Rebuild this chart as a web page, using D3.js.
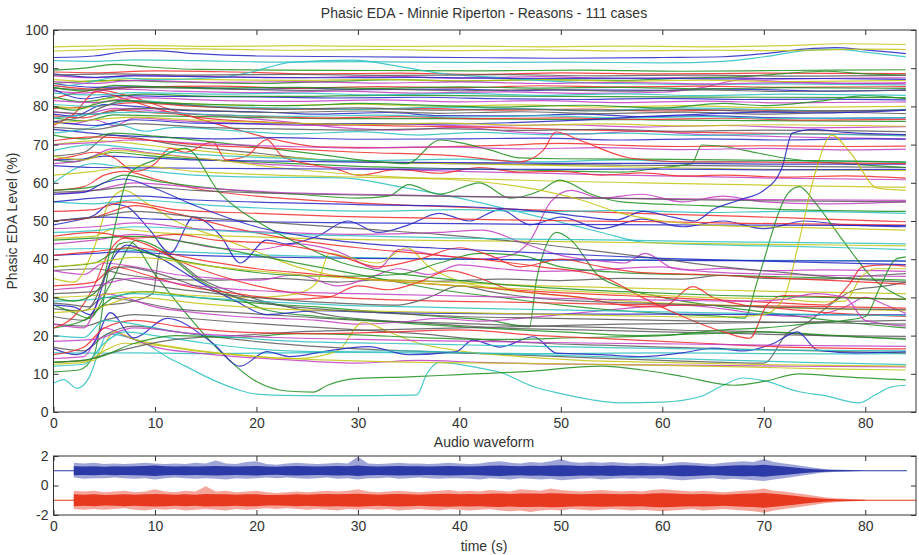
<!DOCTYPE html>
<html>
<head>
<meta charset="utf-8">
<script src="https://cdn.jsdelivr.net/npm/d3@7"></script>
<style>
  body { margin: 0; background: #fff; }
  svg text { font-family: "Liberation Sans", Arial, sans-serif; fill: #333; }
</style>
</head>
<body>
<svg id="chart" width="919" height="555"></svg>
<script>
// ---- tick values ----
const edaXTicks = [0, 10, 20, 30, 40, 50, 60, 70, 80];
const edaYTicks = [0, 10, 20, 30, 40, 50, 60, 70, 80, 90, 100];
const audioYTicks = [-2, 0, 2];

// ---- phasic EDA traces: each case is time, level, time, level, ... (s, %) ----
const blueCases = [
  [0,92.8, 4,93.2, 7,94.3, 10,94.6, 14,93.8, 20,93.2, 30,93, 40,92.8, 50,92.6, 60,92.8, 66,93, 70,93.8, 74,95, 77,95.4, 80,94.8, 84,93.8],
  [0,86, 4,85, 10,85.2, 20,84.5, 25,84.8, 30,84.4, 40,84.5, 45,84.1, 50,84.3, 60,84.2, 65,84.6, 70,84.4, 77,84, 84,84.3],
  [0,84.5, 3,82, 6,82.8, 12,82.6, 20,82.5, 28,82.2, 36,82.4, 44,82, 52,81.8, 60,82.1, 68,81.8, 76,81.9, 84,81.7],
  [0,78, 2,77.5, 5,80.5, 8,80, 14,78.8, 20,78.6, 26,78, 33,78.4, 38,77.6, 45,77.5, 52,78, 58,77.3, 64,77.6, 70,77.1, 77,76.9, 84,77],
  [0,74, 3,73.2, 6,72.5, 10,72, 16,71.5, 22,71.8, 30,71.4, 40,71.5, 48,71.7, 56,71.2, 64,71.5, 72,71.2, 80,71.5, 84,71.4],
  [0,66, 3,66.2, 5,67, 9,66.6, 14,66, 22,65.7, 30,65.4, 40,65.3, 50,65.1, 60,65.1, 70,64.9, 84,64.9],
  [0,64.5, 4,64, 10,63.9, 20,63.7, 30,63.6, 40,63.6, 50,63.5, 60,63.6, 70,63.4, 84,63.5],
  [0,49, 2,50, 4,51.5, 5.6,54.5, 7,54, 9.5,47.6, 11.5,41.6, 13.8,51, 16.5,46, 18.4,39, 21,45, 23,44, 26,46, 29,50, 32,47, 35,49, 38,52, 41,50, 44,53, 47,49, 50,51, 54,48, 58,50.5, 62,48.5, 66,50, 70,48, 74,50, 78,49, 84,48.5],
  [0,41, 4,41.5, 7,42, 12,41.2, 20,40.6, 30,40.2, 40,40, 50,39.8, 60,39.7, 70,39.6, 84,39.5],
  [0,28, 2,27.5, 3.6,25.5, 5.6,39, 7.2,43.7, 10,41, 14.4,34, 18,29, 21,25.5, 26,26.5, 32,26, 40,25.8, 50,25.6, 60,25.6, 70,25.5, 84,25.4],
  [0,16.6, 2.3,15, 4,18, 5.6,26, 7.9,19.4, 11.2,24.5, 15.7,18, 18.4,12, 21,15.8, 23.3,14.5, 27,16, 31,17.1, 35,15, 39.7,15.8, 41.3,18.8, 44,17, 47.3,19.7, 49.6,15.4, 54,15, 58,14.5, 62,15.5, 65,16.7, 68,16, 71,18, 73.3,21, 75.3,16.2, 79,15.5, 84,15.8],
  [0,50, 5,51, 10,50.5, 20,49.8, 30,49.5, 40,49.3, 50,49.1, 60,49, 70,48.9, 84,48.8],
  [0,88.5, 4,87.6, 8,88, 16,87.7, 26,87.5, 36,87.6, 46,87.3, 56,87.4, 66,87.2, 76,87.3, 84,87.1],
  [0,76, 4,75, 8,76.5, 14,75.6, 22,75.4, 30,75.5, 38,75.4, 46,75.8, 52,76.4, 58,77.3, 64,78, 70,78.5, 76,78.3, 84,79],
  [0,55, 4,56, 8,56.6, 14,55.5, 22,54.8, 30,54.3, 40,53.8, 48,52.5, 52,51.2, 55.5,50.3, 58.1,52.5, 61,51, 63.2,50, 65,53, 67.6,55.5, 70,58, 71.8,64, 72.8,73, 75,74, 78,73.2, 84,72.6],
  [0,57, 3,57.5, 5,60, 7,61, 10,58.5, 14,54, 20,48.5, 26,45.5, 32,43.8, 40,42.6, 50,41.4, 60,40.2, 70,39.5, 84,38.6]
];

const greenCases = [
  [0,89.5, 3,90, 6,91, 9,90.4, 14,89.7, 22,89.5, 32,89.4, 42,89.3, 52,89.5, 62,89.2, 72,89.4, 84,89.6],
  [0,86, 6,86.8, 12,86.4, 20,86, 28,86.6, 34,87, 40,86.6, 48,87, 56,86.8, 62,87.4, 68,87.8, 72,88.6, 76,89.2, 80,88.5, 84,88.2],
  [0,82.5, 3,81.2, 6,82.5, 9,83.2, 16,82.6, 24,82.6, 32,82.9, 40,82.8, 50,82.6, 60,82.5, 70,82.4, 84,82.3],
  [0,77, 3,76.2, 6,77.8, 10,77.5, 18,77.2, 28,76.8, 38,76.8, 48,76.6, 58,76.5, 68,76.3, 84,76.1],
  [0,66, 2,65.5, 4,67, 6,68, 9,67.2, 14,66.2, 22,65.2, 30,64.3, 40,63.7, 50,63.1, 56,62.8, 60,64, 62.9,65, 63.9,69.9, 66,69.5, 69.4,67.8, 72,66.5, 78,65, 84,64],
  [0,10.5, 2.5,11, 4,15, 5.5,38, 6.5,44, 7.5,44.5, 10,36, 13,26, 16,17, 20,8, 23,5.5, 25.6,5.2, 27,7, 30,8.8, 35,9.2, 40,9.8, 46,10.5, 54,12, 58,11, 62,9.3, 67,7, 70,8, 73.5,10, 78,9.2, 84,8.4],
  [0,28, 2,26, 3.5,24.5, 5.5,33, 8.2,45, 10,43.5, 14.4,34.5, 18,30, 21,26.7, 26,25, 30,24.2, 36,23, 42,22, 50,21, 58,20, 64,20.5, 70,21, 76,20.2, 84,19],
  [0,22, 3,24, 6,30, 9,31.5, 14,30, 20,28.5, 26,27.5, 32,26.2, 38,25, 43,24, 46.9,22.3, 47.6,34.6, 49.6,47, 51,45, 53.8,35.4, 55.8,32.8, 60,30, 66,27.5, 72,25.5, 78,23.5, 84,22],
  [0,45, 4,45.5, 8,46, 14,44, 20,41, 26,38, 32,35, 38,32, 44,30, 50,28, 56,26.5, 62,25.5, 66,25, 68.1,24.6, 69.4,34.6, 72.4,57.3, 73.5,59, 75,55, 77.5,46, 80.9,34.6, 84,29.6],
  [0,58, 4,59, 7,62, 10,60.5, 16,58.5, 24,57, 30,56, 33,56.5, 35,59.5, 38,57, 42,60, 45,56, 48,58, 49.9,60.7, 53,57, 56,55, 64,54, 72,53, 84,52.5],
  [0,38, 4,39, 7,43, 10,41, 16,38, 22,36, 28,35.5, 34,36, 38,39, 42,41.5, 46,41, 50,38, 56,36.5, 62,36, 70,35.5, 78,35, 84,34.5],
  [0,72.5, 3,71.5, 6,73, 10,72.2, 18,70, 26,67.5, 32,65.5, 34.8,65, 38.1,71.2, 40,70.5, 43,68.6, 46,66.5, 50,66.3, 58,66.2, 66,66, 74,65.8, 84,65.5],
  [0,80, 2,79, 4,80.5, 6,81.5, 10,81, 16,80.5, 24,80.2, 30,80.8, 36,80.4, 44,79.8, 52,80.3, 60,79.6, 66,80.8, 70,80.2, 76,81.5, 80,82.8, 84,82],
  [0,13, 4,14, 8,18, 12,20, 18,19.5, 24,20.5, 30,20.2, 36,19.5, 44,19, 52,19.5, 60,20, 66,21.5, 70,22, 74,23, 78,24, 80,25, 81.5,33, 83,40, 84,40.6],
  [0,30, 2,29, 4,31, 4.9,34.6, 6,48, 7.5,62.5, 10,66, 13,69, 16.4,57.3, 21,48.4, 25,43, 28.5,39, 32,37, 38,35, 46,33, 56,31.5, 66,30.5, 76,30, 84,29.5],
  [0,85, 3,84, 6,85.5, 10,85.2, 16,84.8, 24,85, 32,84.7, 40,85.1, 48,84.8, 56,85, 64,84.6, 72,84.9, 84,84.7]
];

const redCases = [
  [0,89, 4,88.8, 10,89.3, 18,89, 26,88.5, 34,88.7, 42,88.4, 50,88.8, 60,88.5, 70,88.7, 84,88.6],
  [0,82, 2,83.4, 4.3,84.3, 7,83, 10,80.5, 14,77, 18,74, 22,71.2, 26.3,69.4, 32,69.2, 38,69.4, 44,69.8, 50,70.3, 56,69.8, 62,69.5, 70,69.7, 78,69.5, 84,69.6],
  [0,79.5, 4,80, 8,81, 14,80, 20,79.5, 28,79.2, 36,79.5, 44,79, 52,79.3, 60,78.8, 68,79.1, 76,78.7, 84,79],
  [0,77.5, 3,77, 6,79, 10,78.3, 18,77.6, 26,77, 34,77.3, 42,76.8, 50,77, 58,76.6, 66,76.9, 74,76.4, 84,76.6],
  [0,75, 2,78, 4.2,83.8, 7,82, 10,79.5, 14,77.2, 20,76, 28,75.2, 36,74.8, 42,74.6, 50,74, 60,73.4, 68,73, 76,72.8, 84,72.4],
  [0,66, 2,67, 4,68, 6,66.5, 8,63, 10,65, 11.5,69, 13,68, 15.7,70.7, 17,66, 19,67, 21,71.3, 22.6,66.8, 25,65, 28,63.5, 30,62, 34,63.5, 38,62.5, 42,64, 46,62.8, 50,63, 54,62, 58,62.6, 62,61.8, 66,62, 72,61.5, 78,61.8, 84,61.2],
  [0,58, 3,59, 5,62, 7,63, 10,61, 14,58.5, 20,56.5, 28,55, 36,54, 44,53.2, 52,52.5, 60,51.8, 68,51.2, 76,50.5, 84,49.8],
  [0,52.5, 4,53, 7,55, 12,53, 20,52, 28,51.2, 36,50.8, 44,50.3, 52,50, 60,49.8, 68,49.4, 76,49.2, 84,48.9],
  [0,22, 2,25, 4,33, 5.5,42, 7,45.5, 9,44, 12,40, 16,36, 20,33, 24,31, 28,30, 32,29.5, 38,29, 44,28.8, 50,28.5, 56,28.2, 62,28, 70,27.8, 78,27.5, 84,27.2],
  [0,33, 4,34, 6,38, 9,36, 13,33, 18,31, 23,29.5, 27,30, 30,33, 33,32, 36,34, 39,37, 42,35, 45,32, 48,31, 52,30, 56,28, 60,27.5, 63,32.8, 65,30, 68,28, 72,27, 76,26, 80,25.5, 84,25],
  [0,41, 4,42, 8,43, 14,40, 20,37.5, 26,36, 32,34.5, 40,33, 48,31.5, 56,30.5, 64,29.5, 72,28.5, 76,28, 78.5,33.7, 79.7,38, 82,38.5, 84,38.2],
  [0,50, 4,51, 8,54, 12,52, 18,48, 24,45, 30,43, 36,41.5, 42,40, 48,38, 54,35.5, 58,30, 62,25, 66,21, 68.6,19.3, 70.3,28, 72,30.5, 78,30, 84,29.5],
  [0,85.5, 4,84.5, 8,85, 16,85.3, 24,84.8, 32,85.2, 40,84.9, 48,85.4, 56,85.1, 64,85.3, 72,85, 84,85.2],
  [0,15, 3,17, 5,22, 8,24, 12,22.5, 18,21, 26,20.5, 34,21, 40,21.5, 48,20, 56,19, 64,18, 72,17, 84,16.5],
  [0,46, 4,47, 8,45.5, 12,46.5, 16,45, 22,44, 28,41, 32,38, 36,40, 40,43, 43,41, 46,38, 50,40, 54,38, 58,36.5, 64,36, 72,35, 80,34, 84,33.5],
  [0,71, 4,72, 8,71.5, 14,70, 22,69, 30,68, 40,67, 46,65.5, 48.3,68.6, 49.5,73.3, 52,71, 56.8,66.5, 62,65.5, 70,65.4, 84,65]
];

const cyanCases = [
  [0,7.5, 1,8.5, 2.3,6.2, 3.5,9, 4.5,16, 5.3,20.5, 7,19.8, 9,18, 11.2,14.4, 13,12, 15.7,8.4, 18,6, 20,4.7, 24,4.3, 28,4.2, 32,4.3, 35.8,4.5, 36.8,10, 38,13, 42,11.5, 44,10.4, 47.3,6.6, 50,4.8, 53,3.2, 55.8,2.4, 60,2.6, 63.7,4, 66,7, 67.9,8.9, 70,8.2, 73.5,5.3, 76,4.3, 79.4,2.4, 81,4.5, 82.5,6.5, 84,7],
  [0,92, 4,91.8, 8,92.2, 14,92, 22,91.6, 30,91.7, 40,91.5, 50,91.6, 60,91.4, 66,91.8, 70,93, 74,94.6, 77,95, 80,94.2, 84,93],
  [0,15.5, 4,15.4, 8,15.5, 14,15.3, 20,15.4, 30,15.6, 40,15.4, 50,15.3, 60,15.5, 70,15.3, 80,15.2, 84,15.3],
  [0,42.6, 4,42.8, 8,42.3, 14,41.8, 22,41, 30,40.4, 40,40, 50,39.8, 60,39.8, 70,39.7, 84,39.6],
  [0,60, 3.9,65, 7,64, 10,63, 13.8,62, 20,61.5, 28.5,61.3, 34,59, 40,56, 48,51, 54,47, 58,44.5, 62,44, 70,43.5, 78,43, 84,42.5],
  [0,85, 3,86, 6,87.5, 10,87, 16,87.5, 19,88.7, 23.6,91.6, 29.5,92.1, 34,90.5, 38,88.7, 44,87.5, 50,86.5, 56,86, 64,85.7, 72,85.9, 84,85.6],
  [0,80.5, 4,80, 8,81.5, 14,80.3, 22,79.6, 30,79.2, 38,79.8, 46,79.4, 54,79, 62,79.6, 70,79.2, 78,78.8, 84,79.2],
  [0,73, 3,74, 6,75.5, 9,73.5, 12,74.5, 18,73.6, 24,72.8, 30,73.4, 36,72.5, 42,73.2, 48,72.6, 56,73, 64,72.4, 72,72.8, 84,72.3],
  [0,68.5, 4,70, 8,69, 14,67.5, 22,66.5, 30,65.8, 40,66.2, 48,65.5, 56,66, 64,65.4, 72,65.8, 84,65.3],
  [0,55, 4,54.5, 8,55.5, 16,54, 24,53, 32,52.6, 40,53, 48,52.4, 56,52.8, 64,52.2, 72,52.5, 84,52],
  [0,29, 4,29.5, 8,31, 14,30, 20,29, 28,28, 36,27.5, 44,27, 52,26.6, 60,26.2, 68,25.8, 76,25.5, 84,25.2],
  [0,12, 3,12.5, 5,18, 7,21, 10,20, 15,18, 20,16.5, 26,15.8, 34,16, 42,15.4, 50,14.8, 58,14.2, 66,13.6, 74,13, 84,12.4],
  [0,77, 4,78, 8,78.5, 16,77.8, 24,77.4, 32,77.7, 40,77.2, 48,77.5, 56,77, 64,77.3, 72,76.8, 84,77.1],
  [0,83.5, 4,83, 8,83.6, 16,83.2, 24,83.5, 32,83, 40,83.4, 48,82.9, 56,83.3, 64,82.8, 72,83.2, 84,82.9],
  [0,47, 4,47.5, 8,48.5, 16,47.5, 24,46.5, 32,46, 40,45.5, 48,45.2, 56,45, 64,44.6, 72,44.4, 84,44],
  [0,20, 3,19.5, 5,24, 8,23, 12,21, 18,19.5, 24,18.5, 32,18, 40,17.6, 48,17.2, 56,16.8, 64,16.5, 72,16.2, 84,16]
];

const magentaCases = [
  [0,88, 4,87.5, 8,88.2, 16,87.8, 24,87.5, 32,87.9, 40,87.4, 48,87.8, 56,87.3, 64,87.7, 72,87.2, 84,87.5],
  [0,84, 3,83.5, 6,84.5, 12,84, 20,83.6, 28,84, 36,83.5, 44,83.8, 52,83.4, 60,83.7, 64,85, 68,87, 72,86.5, 78,86, 84,86.2],
  [0,78.5, 3,78, 6,79.5, 10,78.8, 16,77.6, 22,76.2, 28,74.5, 34,73.8, 40,74.5, 46,73.2, 52,72.8, 58,73.5, 64,72.6, 70,72.2, 76,71.8, 84,71.5],
  [0,76, 2,75.5, 4,76.5, 6,75, 8,77, 12,76.3, 18,75.6, 26,75, 34,75.4, 42,74.8, 50,75.2, 58,74.6, 66,75, 74,74.4, 84,74.7],
  [0,65, 3,66, 6,69, 9,68, 14,66.5, 20,65, 26,64.2, 32,63.6, 40,63, 48,62.5, 56,62, 64,61.6, 72,61.2, 84,60.8],
  [0,44, 4,45, 8,46.5, 12,45, 16,43, 20,42.5, 24,44, 28,42, 32,37.5, 34,42.5, 38,41, 42,40, 45,41, 47,45, 49,55, 51,58, 54,56, 58,57, 62,55, 66,56.5, 70,55, 76,54.5, 84,55],
  [0,37, 3,36, 5,39, 8,38, 12,36, 16,35, 20,34.5, 24,36, 28,33, 31,35, 34,37.5, 37,36, 40,38.5, 44,37.5, 48,36.8, 52,37, 56,37.6, 60,38, 63,37.2, 66,37.6, 70,37, 76,37.2, 84,36.8],
  [0,23, 3,22, 5,31, 7,30, 10,27.5, 14,26, 18,25, 22,24.5, 26,24, 30,23, 34,23.5, 38,24.5, 42,23.8, 46,24.5, 50,25.5, 54,26.5, 58,27.5, 62,28, 66,27, 70,25.5, 74,25, 78,27.5, 80,30, 82,28, 84,25.8],
  [0,14, 3,14.5, 5,22, 7,20, 10,17, 14,15.5, 18,14.5, 24,13.5, 30,12.8, 36,13.5, 42,13, 48,12.6, 56,12.4, 64,12.2, 72,12, 84,11.8],
  [0,57, 4,58, 8,60, 14,58.8, 22,57.5, 30,57, 38,56.6, 46,56.2, 54,56, 62,55.8, 70,55.6, 84,55.4],
  [0,48, 4,48.5, 8,49.5, 14,48, 22,47, 30,46.5, 38,47, 42.3,47.6, 46,44.5, 50,41, 54,39.5, 56.3,39, 58.3,41.5, 61.2,37.5, 66,36.5, 72,36, 84,35.5],
  [0,81.5, 4,81, 8,82.3, 16,81.6, 24,81.3, 32,81.7, 40,81.2, 48,81.5, 56,81, 64,81.4, 72,80.9, 84,81.2],
  [0,86.5, 4,86, 8,86.8, 16,86.3, 24,86.5, 32,86.1, 40,86.4, 48,86, 56,86.3, 64,85.9, 72,86.2, 84,85.9],
  [0,70, 4,70.5, 8,71.2, 14,70.3, 22,69.6, 30,69.1, 38,69.4, 46,68.9, 54,69.2, 62,68.7, 70,69, 78,68.6, 84,68.8],
  [0,32, 4,33, 8,35, 14,33, 22,31.5, 30,31, 38,30.5, 46,30, 54,29.5, 62,29.2, 68,29, 72,29.5, 75,31, 78,30, 80,24, 84,22.5],
  [0,18.5, 4,19, 8,22, 14,20.5, 22,19.5, 30,19, 38,18.6, 46,18.3, 54,18, 62,17.8, 70,17.5, 84,17.2]
];

const yellowCases = [
  [0,95.6, 4,95.8, 8,96, 16,95.7, 24,95.9, 32,95.7, 40,95.8, 48,95.6, 56,95.8, 64,95.6, 72,95.9, 78,96.4, 84,96.2],
  [0,94.5, 4,94.8, 8,95.2, 16,95, 24,94.7, 32,94.9, 40,94.6, 48,94.8, 56,94.5, 64,94.7, 72,94.6, 80,95, 84,94.9],
  [0,87, 4,86.5, 8,87.3, 16,87, 24,86.8, 32,87.1, 40,86.7, 48,87, 56,86.6, 64,86.9, 72,86.5, 84,86.8],
  [0,80, 3,79.5, 5,82, 8,81.5, 14,80.6, 22,80.2, 30,80.6, 38,80, 46,80.4, 54,79.8, 62,80.2, 70,79.7, 84,80],
  [0,70, 4,71, 7,70.5, 12,69, 18,67.5, 24,66.5, 30,65.6, 40,65, 50,64.5, 60,64, 70,63.5, 84,63.2],
  [0,67, 3,66, 6,68.5, 10,67.5, 16,66, 22,64, 28,62.5, 34,61.5, 42,61, 50,60.4, 58,60, 66,59.6, 74,59.2, 84,58.8],
  [0,45.5, 4,46, 6,48, 10,47, 18,46, 26,45.3, 34,45, 42,44.8, 50,44.6, 58,44.3, 66,44, 74,43.8, 84,43.5],
  [0,35, 2,34, 4,43, 5.5,55, 7,58, 9,55, 12,50, 16,46, 20,42, 24,38, 27.2,36, 30,35, 34,34.5, 40,33.8, 48,33, 56,32.5, 64,32, 72,31.5, 84,31],
  [0,30, 4,30.5, 8,31.5, 14,30.5, 20,30, 24,31, 26,34, 27.2,41.5, 29,40.5, 32,39, 34.8,43, 37,38, 39.7,34.5, 43,32.5, 48,31, 54,29.5, 60,28.5, 68,27.8, 76,27, 84,26.5],
  [0,13, 4,13.5, 6,21, 8,19, 12,17, 18,15, 24,14, 28,16, 30.5,23.5, 33,21, 36,18, 40,16, 46,14.5, 52,13.5, 60,13, 68,12.5, 76,12.2, 84,12],
  [0,26, 4,27, 8,30, 14,28.5, 22,27, 30,26.5, 40,26, 50,25.5, 60,25, 66,24.8, 70,25.5, 72,30, 73.5,45, 75,62, 76.7,72.5, 78.5,68, 81.2,58.6, 84,58],
  [0,38, 4,39, 8,40.5, 16,38, 24,36, 32,34.5, 40,33, 48,32, 56,31, 64,30, 72,29.5, 76,28.8, 78,29, 79.5,35, 81,37.5, 84,37.5],
  [0,12.5, 3,13, 5,16, 7,18, 10,17.5, 14,16, 20,14.5, 28,13.5, 36,13, 44,12.8, 52,12.5, 60,12.2, 68,11.8, 76,11.3, 84,11],
  [0,75.5, 4,76.5, 8,77.2, 14,76.4, 22,75.7, 30,75.3, 38,75.6, 46,75.1, 54,75.4, 62,74.9, 70,75.2, 84,74.8],
  [0,62, 4,63, 8,64.5, 14,63, 22,62, 30,61.5, 38,61, 46,59, 52,55.5, 56,52, 60,50, 64,49, 70,48.5, 78,48, 84,47.6]
];

const grayCases = [
  [0,67, 3,68, 4.6,71.2, 5.3,72.5, 8,71.8, 12,70, 16,68.8, 20,67.8, 26.3,66, 32,65.4, 40,65, 48,64.8, 56,64.6, 64,64.5, 72,64.3, 84,64],
  [0,25, 3,24, 5,28, 7,28.5, 9.8,31, 10.5,42, 12,40, 14.4,35, 17,32, 20,29.5, 24,27, 28,25, 32,24, 38,23, 44,22, 52,21.5, 60,21, 68,20.5, 76,20, 84,19.8],
  [0,17, 3,16, 5,20, 8,22.5, 12,21, 18,19, 24,17.5, 30,16.5, 40,15.5, 50,14.5, 60,13.5, 66,13, 70,12.8, 72.3,20.6, 74.3,23.4, 76.5,28, 79,32, 82,33, 84,34],
  [0,37, 4,37.5, 7,36, 10,35, 16,34.5, 22,35, 28,34, 32,34.6, 38,34.2, 44,34.8, 50,34.4, 56,35, 62,34.8, 66,35.8, 70,35, 76,34.8, 80,35.6, 84,36.2],
  [0,27, 3,26.5, 5,30, 8,29, 12,27, 18,26, 24,25, 30,24, 36,23.5, 42,23, 48,22.5, 56,22, 62,21.4, 70,21, 76,20, 80,19.5, 84,19.3],
  [0,23, 3,22.5, 5,24, 8,25.5, 12,24.8, 18,23.5, 24,22.5, 30,21.5, 36,20.5, 42,19, 48,18, 54,17.5, 60,17, 66,16.5, 72,16.2, 78,15.8, 84,15.5],
  [0,78.6, 4,78, 8,79.5, 14,79, 22,78.4, 30,78.8, 38,78.2, 46,78.6, 54,78.1, 62,78.5, 70,78, 78,78.4, 84,78.1],
  [0,76, 3,77.5, 5,80, 7,81.5, 10,81, 16,79.8, 22,79.2, 30,79.6, 38,79, 46,79.3, 54,78.8, 62,79.2, 70,78.7, 84,79],
  [0,74.5, 4,74, 8,75.5, 14,74.6, 22,74.1, 30,73.8, 38,74.2, 46,73.7, 54,74, 62,73.5, 70,73.8, 84,73.4],
  [0,57.5, 4,58, 8,59, 14,58, 22,57.2, 30,56.8, 38,56.5, 46,56.2, 54,56, 62,55.6, 70,55.3, 84,55],
  [0,31, 4,31.5, 6,35, 10,33, 16,31, 22,29.5, 28,28.5, 34,28, 37,30, 40,33, 43,31.5, 47,30, 52,29, 58,28.5, 64,28, 70,27.5, 78,27, 84,26.8],
  [0,50, 4,51, 8,52.5, 14,51, 22,49.5, 30,48, 38,46.5, 46,44.5, 54,42, 60,40, 66,38, 72,36.5, 78,35, 84,34],
  [0,13, 3,13.5, 5,15, 8,17, 12,19, 18,20, 24,21, 32,21.5, 40,22, 48,22.5, 56,23, 64,23.2, 72,23.5, 80,23.8, 84,24],
  [0,84.8, 4,84.3, 8,85, 16,84.6, 24,84.2, 32,84.5, 40,84.1, 48,84.4, 56,84, 64,84.3, 72,83.9, 84,84.2],
  [0,88.2, 6,88.5, 14,88.2, 24,88.4, 34,88.1, 44,88.3, 54,88, 64,88.2, 74,87.9, 84,88.1],
  [0,28.5, 2,28, 3.5,27.5, 5.5,37, 7,38, 10,36.5, 14,33, 18,30, 22,28, 26,27, 32,26, 40,25, 48,24.6, 56,24.2, 64,23.8, 72,23.5, 84,23]
];

// ---- audio waveform envelopes, one value per second from t = 2 s ----
// peak excursions above / below each channel's centre line
const leftUp   = [0.55,0.5,0.55,0.45,0.5,0.45,0.5,0.55,0.5,0.45,0.5,0.45,0.55,0.5,0.7,0.5,0.45,0.6,0.65,0.45,0.4,0.5,0.55,0.5,0.45,0.5,0.55,0.5,0.95,0.5,0.45,0.5,0.55,0.5,0.5,0.45,0.5,0.55,0.5,0.45,0.5,0.6,0.65,0.55,0.5,0.6,0.55,0.65,0.8,0.6,0.55,0.6,0.55,0.6,0.55,0.5,0.55,0.5,0.45,0.55,0.6,0.55,0.5,0.45,0.55,0.6,0.65,0.6,0.8,0.6,0.5,0.4,0.3,0.2,0.12,0.08,0.06,0.03,0];
const leftDown = [0.45,0.55,0.5,0.5,0.45,0.5,0.55,0.5,0.6,0.5,0.45,0.5,0.55,0.5,0.55,0.6,0.5,0.55,0.5,0.45,0.5,0.45,0.5,0.55,0.5,0.45,0.55,0.5,0.6,0.5,0.5,0.45,0.55,0.5,0.45,0.5,0.55,0.5,0.5,0.55,0.6,0.5,0.55,0.6,0.5,0.55,0.6,0.55,0.65,0.6,0.55,0.5,0.6,0.55,0.5,0.55,0.5,0.55,0.5,0.6,0.65,0.6,0.55,0.5,0.6,0.55,0.6,0.65,0.7,0.6,0.5,0.4,0.3,0.2,0.12,0.08,0.05,0.03,0];
const rightUp   = [0.65,0.6,0.65,0.55,0.6,0.65,0.55,0.6,0.75,0.6,0.55,0.65,0.6,0.95,0.6,0.65,0.55,0.6,0.65,0.55,0.5,0.55,0.6,0.55,0.6,0.65,0.6,0.65,0.75,0.6,0.55,0.6,0.65,0.6,0.55,0.6,0.65,0.7,0.6,0.65,0.6,0.7,0.65,0.6,0.75,0.7,0.65,0.8,0.7,0.65,0.6,0.65,0.7,0.65,0.6,0.65,0.6,0.7,0.75,0.7,0.65,0.6,0.65,0.6,0.55,0.6,0.65,0.7,0.8,0.65,0.6,0.5,0.4,0.3,0.2,0.14,0.1,0.06,0.03];
const rightDown = [0.6,0.65,0.6,0.65,0.6,0.55,0.65,0.7,0.6,0.65,0.6,0.7,0.65,0.6,0.65,0.7,0.6,0.65,0.6,0.55,0.6,0.55,0.6,0.65,0.6,0.65,0.7,0.6,0.65,0.6,0.65,0.6,0.7,0.65,0.6,0.65,0.7,0.6,0.65,0.7,0.65,0.6,0.7,0.75,0.7,0.8,0.7,0.65,0.7,0.6,0.65,0.7,0.65,0.6,0.65,0.7,0.65,0.7,0.75,0.7,0.65,0.6,0.7,0.65,0.6,0.65,0.7,0.75,0.85,0.7,0.6,0.5,0.4,0.3,0.2,0.14,0.1,0.06,0.03];
// dense core of each channel (half-width)
const leftCore  = [0.3,0.28,0.3,0.27,0.3,0.28,0.3,0.32,0.35,0.3,0.28,0.3,0.28,0.3,0.32,0.3,0.28,0.3,0.32,0.28,0.27,0.3,0.32,0.3,0.28,0.3,0.32,0.3,0.35,0.3,0.28,0.3,0.32,0.3,0.3,0.28,0.3,0.32,0.3,0.28,0.3,0.34,0.36,0.32,0.3,0.34,0.32,0.35,0.38,0.35,0.32,0.34,0.32,0.35,0.32,0.3,0.32,0.3,0.3,0.34,0.38,0.36,0.32,0.28,0.32,0.35,0.38,0.36,0.4,0.34,0.28,0.22,0.16,0.1,0.06,0.04,0.03,0.02,0];
const rightCore = [0.4,0.38,0.4,0.36,0.38,0.4,0.37,0.4,0.42,0.4,0.37,0.4,0.38,0.42,0.4,0.4,0.37,0.4,0.4,0.36,0.35,0.37,0.4,0.38,0.4,0.42,0.4,0.42,0.44,0.4,0.38,0.4,0.42,0.4,0.38,0.4,0.42,0.44,0.4,0.42,0.4,0.44,0.45,0.42,0.46,0.45,0.44,0.48,0.46,0.42,0.4,0.42,0.44,0.42,0.4,0.42,0.4,0.45,0.48,0.46,0.42,0.4,0.42,0.4,0.38,0.4,0.44,0.46,0.5,0.44,0.38,0.3,0.22,0.16,0.1,0.07,0.05,0.03,0.02];

// ---- layout ----
const svg = d3.select("#chart");
const L = 53.5, R = 916;
const edaTop = 30, edaBottom = 412;
const audTop = 456, audBottom = 515;

const x = d3.scaleLinear().domain([0, 85]).range([L, R]);
const y = d3.scaleLinear().domain([0, 100]).range([edaBottom, edaTop]);
const ya = d3.scaleLinear().domain([-2, 2]).range([audBottom, audTop]);

const palette = [
  { color: "#2323c4", cases: blueCases },
  { color: "#1e8f1e", cases: greenCases },
  { color: "#f02a2a", cases: redCases },
  { color: "#2cc0c0", cases: cyanCases },
  { color: "#c23cc2", cases: magentaCases },
  { color: "#c4c414", cases: yellowCases },
  { color: "#5a5a5a", cases: grayCases }
];

function pairs(list) {
  const out = [];
  for (let i = 0; i < list.length; i += 2) out.push([list[i], list[i + 1]]);
  return out;
}

// interleave colours the way a plotting colour cycle would
const traces = [];
const maxLen = d3.max(palette, p => p.cases.length);
for (let i = 0; i < maxLen; i++) {
  palette.forEach(p => { if (i < p.cases.length) traces.push({ color: p.color, pts: pairs(p.cases[i]) }); });
}

const line = d3.line().x(d => x(d[0])).y(d => y(d[1])).curve(d3.curveMonotoneX);

svg.append("clipPath").attr("id", "edaClip")
  .append("rect").attr("x", L).attr("y", edaTop).attr("width", R - L).attr("height", edaBottom - edaTop);

svg.append("g").attr("clip-path", "url(#edaClip)")
  .selectAll("path").data(traces).join("path")
  .attr("d", d => line(d.pts))
  .attr("fill", "none")
  .attr("stroke", d => d.color)
  .attr("stroke-width", 1.2)
  .attr("stroke-opacity", 0.85);

// ---- axes helpers ----
const FONT = "14px";
function box(top, bottom) {
  svg.append("rect").attr("x", L).attr("y", top).attr("width", R - L).attr("height", bottom - top)
    .attr("fill", "none").attr("stroke", "#333").attr("stroke-width", 1);
}
function styleAxis(g) {
  g.select(".domain").remove();
  g.selectAll(".tick line").attr("stroke", "#333");
  g.selectAll(".tick text").attr("fill", "#333").style("font-size", FONT)
    .style("font-family", "'Liberation Sans', Arial, sans-serif");
}
const plain = d => String(d);

// main axes
box(edaTop, edaBottom);
svg.append("g").attr("transform", `translate(0,${edaBottom})`)
  .call(d3.axisBottom(x).tickValues(edaXTicks).tickSize(-5).tickPadding(6).tickFormat(plain)).call(styleAxis);
svg.append("g").attr("transform", `translate(0,${edaTop})`)
  .call(d3.axisTop(x).tickValues(edaXTicks).tickSize(-5).tickFormat("")).call(styleAxis);
svg.append("g").attr("transform", `translate(${L},0)`)
  .call(d3.axisLeft(y).tickValues(edaYTicks).tickSize(-5).tickPadding(5).tickFormat(plain)).call(styleAxis);
svg.append("g").attr("transform", `translate(${R},0)`)
  .call(d3.axisRight(y).tickValues(edaYTicks).tickSize(-5).tickFormat("")).call(styleAxis);

// ---- audio waveform ----
const secs = d3.range(2, 2 + leftUp.length);
const channels = [
  { center: 1, up: leftUp, down: leftDown, core: leftCore, color: "#2b3aa6", end: 84.1 },
  { center: -1, up: rightUp, down: rightDown, core: rightCore, color: "#e8381f", end: 85 }
];
channels.forEach(c => {
  svg.append("line").attr("x1", x(0)).attr("x2", x(c.end))
    .attr("y1", ya(c.center)).attr("y2", ya(c.center))
    .attr("stroke", c.color).attr("stroke-width", 1);
  const env = secs.map((t, i) => ({ t, up: c.up[i], down: c.down[i], core: c.core[i] }));
  const peakArea = d3.area().x(d => x(d.t))
    .y0(d => ya(c.center - d.down)).y1(d => ya(c.center + d.up));
  const coreArea = d3.area().x(d => x(d.t))
    .y0(d => ya(c.center - d.core)).y1(d => ya(c.center + d.core));
  svg.append("path").datum(env).attr("d", peakArea)
    .attr("fill", c.color).attr("fill-opacity", 0.45);
  svg.append("path").datum(env).attr("d", coreArea)
    .attr("fill", c.color);
});

box(audTop, audBottom);
svg.append("g").attr("transform", `translate(0,${audBottom})`)
  .call(d3.axisBottom(x).tickValues(edaXTicks).tickSize(-5).tickPadding(6).tickFormat(plain)).call(styleAxis);
svg.append("g").attr("transform", `translate(0,${audTop})`)
  .call(d3.axisTop(x).tickValues(edaXTicks).tickSize(-5).tickFormat("")).call(styleAxis);
svg.append("g").attr("transform", `translate(${L},0)`)
  .call(d3.axisLeft(ya).tickValues(audioYTicks).tickSize(-5).tickPadding(5).tickFormat(plain)).call(styleAxis);
svg.append("g").attr("transform", `translate(${R},0)`)
  .call(d3.axisRight(ya).tickValues(audioYTicks).tickSize(-5).tickFormat("")).call(styleAxis);

// ---- titles ----
svg.append("text").attr("x", 484).attr("y", 18).attr("text-anchor", "middle")
  .style("font-size", FONT).text("Phasic EDA - Minnie Riperton - Reasons - 111 cases");
svg.append("text").attr("transform", `translate(17,${(edaTop + edaBottom) / 2}) rotate(-90)`)
  .attr("text-anchor", "middle").style("font-size", FONT).text("Phasic EDA Level (%)");
svg.append("text").attr("x", 484).attr("y", 447).attr("text-anchor", "middle")
  .style("font-size", FONT).text("Audio waveform");
svg.append("text").attr("x", 484).attr("y", 551).attr("text-anchor", "middle")
  .style("font-size", FONT).text("time (s)");
</script>
</body>
</html>
